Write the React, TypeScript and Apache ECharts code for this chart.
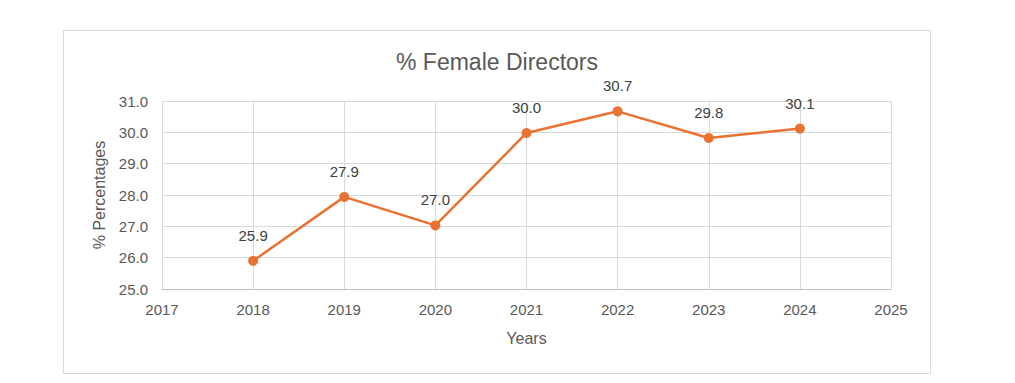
import React, { useEffect, useRef } from "react";
import * as echarts from "echarts";

const years = [2018, 2019, 2020, 2021, 2022, 2023, 2024];
const femalePct = [25.9, 27.94, 27.03, 29.98, 30.67, 29.82, 30.12];
const titleText = "% Female Directors";
const yName = "% Percentages";
const xName = "Years";

export default function App() {
  const ref = useRef<HTMLDivElement>(null);
  useEffect(() => {
    const chart = echarts.init(ref.current!, null, { renderer: "svg" });
    const font = "'Liberation Sans', Arial, sans-serif";
    chart.setOption({
      animation: false,
      backgroundColor: "#ffffff",
      textStyle: { fontFamily: font },
      graphic: [
        {
          type: "rect",
          shape: { x: 63.5, y: 30.5, width: 867, height: 343 },
          style: { fill: "none", stroke: "#D9D9D9", lineWidth: 1 },
          silent: true,
          z: -1,
        },
        {
          type: "text",
          x: 497,
          y: 62,
          silent: true,
          style: {
            text: titleText,
            fill: "#595959",
            font: `23px ${font}`,
            align: "center",
            verticalAlign: "middle",
          },
        },
      ],
      grid: { left: 162, top: 101, right: 124, bottom: 94, containLabel: false },
      xAxis: {
        type: "value",
        min: 2017,
        max: 2025,
        interval: 1,
        name: xName,
        nameLocation: "middle",
        nameGap: 41,
        nameTextStyle: { fontSize: 16, color: "#595959", fontFamily: font },
        axisLine: { show: true, lineStyle: { color: "#BFBFBF", width: 1 } },
        axisTick: { show: false },
        axisLabel: { color: "#595959", fontSize: 15, margin: 13, fontFamily: font, formatter: (v: number) => String(v) },
        splitLine: { show: true, lineStyle: { color: "#D9D9D9", width: 1 } },
      },
      yAxis: {
        type: "value",
        min: 25,
        max: 31,
        interval: 1,
        name: yName,
        nameLocation: "middle",
        nameGap: 55,
        nameRotate: 90,
        nameTextStyle: { fontSize: 16, color: "#595959", fontFamily: font },
        axisLine: { show: false },
        axisTick: { show: false },
        axisLabel: { color: "#595959", fontSize: 15, margin: 14, fontFamily: font, formatter: (v: number) => v.toFixed(1) },
        splitLine: { show: true, lineStyle: { color: "#D9D9D9", width: 1 } },
      },
      series: [
        {
          type: "line",
          data: years.map((y, i) => [y, femalePct[i]]),
          symbol: "circle",
          symbolSize: 10,
          lineStyle: { color: "#E97132", width: 2.5 },
          itemStyle: { color: "#E97132" },
          label: {
            show: true,
            position: "top",
            distance: 13,
            color: "#404040",
            fontSize: 15,
            fontFamily: font,
            formatter: (p: any) => (p.value[1] as number).toFixed(1),
          },
        },
      ],
    });
    return () => chart.dispose();
  }, []);
  return (
    <div
      ref={ref}
      style={{ position: "fixed", left: 0, top: 0, width: 1015, height: 383 }}
    />
  );
}
